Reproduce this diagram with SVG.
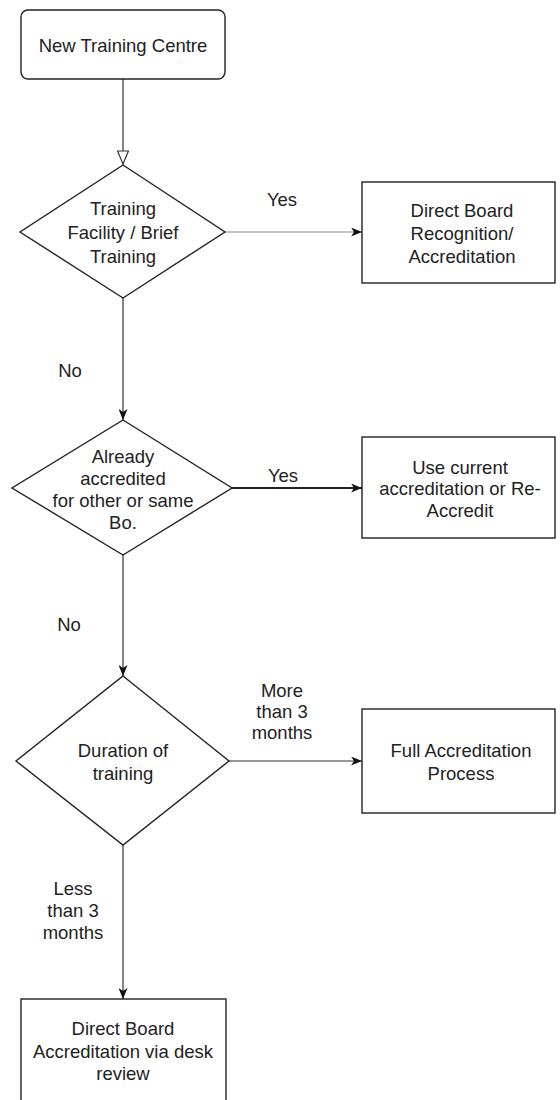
<svg xmlns="http://www.w3.org/2000/svg" width="560" height="1100" viewBox="0 0 560 1100">
  <defs>
    <style>
      .node { fill: #ffffff; stroke: #222222; stroke-width: 1.4; }
      .lbl { font-family: "Liberation Sans", Arial, sans-serif; font-size: 18.5px; fill: #222222; text-anchor: middle; dominant-baseline: central; }
      .conn { fill: none; stroke: #333333; stroke-width: 1.2; }
      .conn-light { fill: none; stroke: #8a8a8a; stroke-width: 1.2; }
      .conn-bold { fill: none; stroke: #222222; stroke-width: 2.2; }
    </style>
    <marker id="hollow" viewBox="0 0 15 13" refX="14" refY="6.5" markerWidth="15" markerHeight="13" markerUnits="userSpaceOnUse" orient="auto">
      <path d="M1,1 L14,6.5 L1,12 Z" fill="#ffffff" stroke="#333333" stroke-width="1.2"/>
    </marker>
    <marker id="classic" viewBox="0 0 11 9" refX="11" refY="4.5" markerWidth="11" markerHeight="9" markerUnits="userSpaceOnUse" orient="auto">
      <path d="M0,0 L11,4.5 L0,9 L3,4.5 Z" fill="#111111"/>
    </marker>
  </defs>
  <rect width="560" height="1100" fill="#ffffff"/>

  <g id="connectors">
    <line class="conn" x1="123" y1="79" x2="123" y2="164" marker-end="url(#hollow)"/>
    <line class="conn-light" x1="225" y1="232" x2="362" y2="232" marker-end="url(#classic)"/>
    <line class="conn" x1="123" y1="298" x2="123" y2="420" marker-end="url(#classic)"/>
    <line class="conn-bold" x1="232" y1="488" x2="362" y2="488" marker-end="url(#classic)"/>
    <line class="conn" x1="123" y1="555" x2="123" y2="676" marker-end="url(#classic)"/>
    <line class="conn" x1="229" y1="761" x2="362" y2="761" marker-end="url(#classic)"/>
    <line class="conn" x1="123" y1="845" x2="123" y2="999" marker-end="url(#classic)"/>
    <text class="lbl" x="282" y="199">Yes</text>
    <text class="lbl" x="70" y="370">No</text>
    <text class="lbl" x="283" y="475">Yes</text>
    <text class="lbl" x="69" y="624">No</text>
    <text class="lbl" x="282" y="690">More</text>
    <text class="lbl" x="282" y="711">than 3</text>
    <text class="lbl" x="282" y="732">months</text>
    <text class="lbl" x="73" y="888">Less</text>
    <text class="lbl" x="73" y="910">than 3</text>
    <text class="lbl" x="73" y="932">months</text>
  </g>

  <g id="start">
    <rect class="node" x="21" y="10" width="204" height="69" rx="7" ry="7"/>
    <text class="lbl" x="123" y="45">New Training Centre</text>
  </g>

  <g id="decision-facility">
    <polygon class="node" points="123,165 225,232 123,298 20,232"/>
    <text class="lbl" x="123" y="208">Training</text>
    <text class="lbl" x="123" y="232">Facility / Brief</text>
    <text class="lbl" x="123" y="256">Training</text>
  </g>

  <g id="direct-recognition">
    <rect class="node" x="362" y="182" width="193" height="101"/>
    <text class="lbl" x="462" y="210">Direct Board</text>
    <text class="lbl" x="462" y="233">Recognition/</text>
    <text class="lbl" x="462" y="256">Accreditation</text>
  </g>

  <g id="decision-accredited">
    <polygon class="node" points="123,420 232,488 123,555 12,488"/>
    <text class="lbl" x="123" y="456">Already</text>
    <text class="lbl" x="123" y="478">accredited</text>
    <text class="lbl" x="123" y="500">for other or same</text>
    <text class="lbl" x="123" y="522">Bo.</text>
  </g>

  <g id="use-current">
    <rect class="node" x="362" y="437" width="193" height="101"/>
    <text class="lbl" x="460" y="467">Use current</text>
    <text class="lbl" x="460" y="488">accreditation or Re-</text>
    <text class="lbl" x="460" y="510">Accredit</text>
  </g>

  <g id="decision-duration">
    <polygon class="node" points="123,676 229,761 123,845 16,761"/>
    <text class="lbl" x="123" y="750">Duration of</text>
    <text class="lbl" x="123" y="773">training</text>
  </g>

  <g id="full-process">
    <rect class="node" x="362" y="709" width="193" height="104"/>
    <text class="lbl" x="461" y="750">Full Accreditation</text>
    <text class="lbl" x="461" y="773">Process</text>
  </g>

  <g id="desk-review">
    <rect class="node" x="21" y="999" width="205" height="106"/>
    <text class="lbl" x="123" y="1028">Direct Board</text>
    <text class="lbl" x="123" y="1051">Accreditation via desk</text>
    <text class="lbl" x="123" y="1073">review</text>
  </g>
</svg>
